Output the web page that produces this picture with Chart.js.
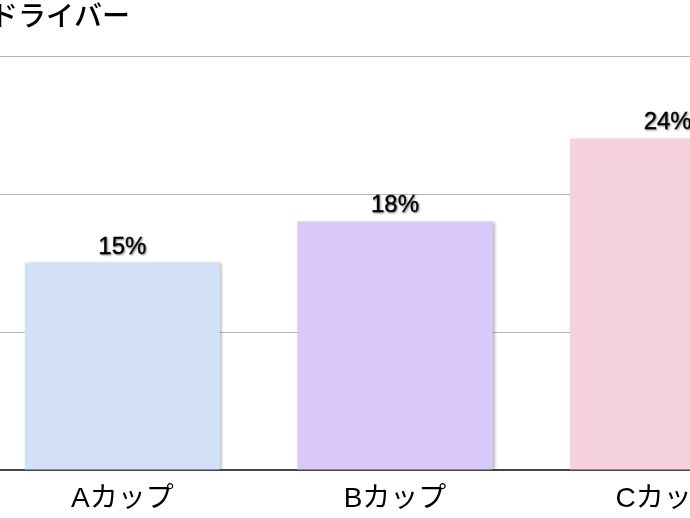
<!DOCTYPE html>
<html>
<head>
<meta charset="utf-8">
<script src="https://cdn.jsdelivr.net/npm/chart.js@4.4.1/dist/chart.umd.min.js"></script>
<style>
  html, body { margin: 0; padding: 0; background: #fff; overflow: hidden; width: 690px; height: 518px; }
  #wrap { position: absolute; left: -14px; top: 0; width: 818px; height: 518px; }
</style>
</head>
<body>
<div id="wrap"><canvas id="c"></canvas></div>
<script>
const titleText = 'ドライバー';
const categories = ['Aカップ', 'Bカップ', 'Cカップ'];
const values = [15, 18, 24];
const valueLabels = ['15%', '18%', '24%'];
const barColors = ['#d3e1f8', '#d8c9f8', '#f5d0de'];
const yMax = 30;
const yStep = 10;

const FONT = '"Liberation Sans", "Noto Sans CJK JP", sans-serif';

const titlePlugin = {
  id: 'titleText',
  afterDraw(chart) {
    const ctx = chart.ctx;
    ctx.save();
    ctx.font = '500 28px ' + FONT;
    ctx.fillStyle = '#000';
    ctx.textAlign = 'left';
    ctx.textBaseline = 'middle';
    ctx.fillText(titleText, 4, 18);
    ctx.restore();
  }
};

const shadowPlugin = {
  id: 'barShadow',
  beforeDatasetsDraw(chart) {
    const ctx = chart.ctx;
    ctx.save();
    ctx.shadowColor = 'rgba(0,0,0,0.28)';
    ctx.shadowBlur = 3;
    ctx.shadowOffsetX = 2;
    ctx.shadowOffsetY = 0;
  },
  afterDatasetsDraw(chart) {
    chart.ctx.restore();
  }
};

const labelPlugin = {
  id: 'valueLabels',
  afterDatasetsDraw(chart) {
    const ctx = chart.ctx;
    const meta = chart.getDatasetMeta(0);
    ctx.save();
    ctx.font = '24px ' + FONT;
    ctx.fillStyle = '#000';
    ctx.strokeStyle = '#000';
    ctx.lineWidth = 0.35;
    ctx.textAlign = 'center';
    ctx.textBaseline = 'bottom';
    ctx.shadowColor = 'rgba(0,0,0,0.45)';
    ctx.shadowBlur = 2;
    ctx.shadowOffsetX = 1;
    ctx.shadowOffsetY = 1;
    meta.data.forEach((bar, i) => {
      ctx.fillText(valueLabels[i], bar.x, bar.y - 4);
      ctx.strokeText(valueLabels[i], bar.x, bar.y - 4);
    });
    ctx.restore();
  }
};

new Chart(document.getElementById('c'), {
  type: 'bar',
  data: {
    labels: categories,
    datasets: [{
      data: values,
      backgroundColor: barColors,
      borderWidth: 0,
      categoryPercentage: 1,
      barPercentage: 0.716
    }]
  },
  options: {
    responsive: true,
    maintainAspectRatio: false,
    animation: false,
    layout: { padding: { top: 56, left: 0, right: 0, bottom: 0 } },
    plugins: { legend: { display: false }, tooltip: { enabled: false }, title: { display: false } },
    scales: {
      x: {
        grid: { display: false, drawTicks: false },
        border: { display: true, color: '#454545', width: 2 },
        ticks: { color: '#000', font: { size: 28, family: FONT }, padding: 12 },
        afterFit(scale) { scale.height = 48; }
      },
      y: {
        min: 0, max: yMax,
        ticks: { display: false, stepSize: yStep },
        grid: { color: '#b4b4b4', lineWidth: 1, drawTicks: false },
        border: { display: false },
        afterFit(scale) { scale.width = 0; }
      }
    }
  },
  plugins: [titlePlugin, shadowPlugin, labelPlugin]
});
</script>
</body>
</html>
